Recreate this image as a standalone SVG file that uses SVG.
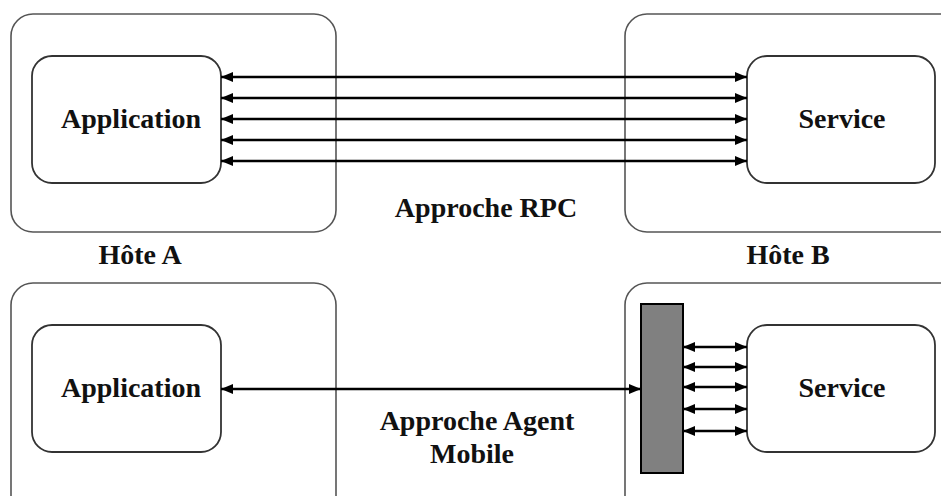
<svg xmlns="http://www.w3.org/2000/svg" width="941" height="496" viewBox="0 0 941 496">
<style>
.host{fill:none;stroke:#555;stroke-width:1.6}
.inner{fill:#fff;stroke:#333;stroke-width:1.8}
.lbl{font-family:"Liberation Serif",serif;font-weight:bold;font-size:28px;fill:#111;text-anchor:middle}
.arr{stroke:#000;stroke-width:2.4;fill:none;marker-start:url(#ah);marker-end:url(#ah)}
</style>
<defs>
<marker id="ah" viewBox="0 0 12 10" refX="12" refY="5" markerWidth="12" markerHeight="11" markerUnits="userSpaceOnUse" orient="auto-start-reverse">
<path d="M0,0 L12,5 L0,10 Z" fill="#000"/>
</marker>
</defs>
<rect width="941" height="496" fill="#fff"/>
<g id="hostA-top"><rect class="host" x="11" y="14" width="325" height="218" rx="22"/></g>
<g id="hostB-top"><rect class="host" x="625" y="14" width="340" height="218" rx="22"/></g>
<g id="hostA-bottom"><rect class="host" x="11" y="283" width="325" height="240" rx="22"/></g>
<g id="hostB-bottom"><rect class="host" x="625" y="283" width="340" height="240" rx="22"/></g>
<g id="app-top"><rect class="inner" x="32" y="56" width="189" height="127" rx="20"/><text class="lbl" x="131" y="128">Application</text></g>
<g id="service-top"><rect class="inner" x="747" y="56" width="188" height="127" rx="20"/><text class="lbl" x="842" y="128">Service</text></g>
<g id="app-bottom"><rect class="inner" x="32" y="325" width="189" height="127" rx="20"/><text class="lbl" x="131" y="397">Application</text></g>
<g id="service-bottom"><rect class="inner" x="747" y="325" width="188" height="127" rx="20"/><text class="lbl" x="842" y="397">Service</text></g>
<g id="agent"><rect x="641" y="304" width="42" height="169" fill="#808080" stroke="#000" stroke-width="2"/></g>
<g id="connectors">
<line class="arr" x1="221" y1="77" x2="747" y2="77"/>
<line class="arr" x1="221" y1="98" x2="747" y2="98"/>
<line class="arr" x1="221" y1="119" x2="747" y2="119"/>
<line class="arr" x1="221" y1="140" x2="747" y2="140"/>
<line class="arr" x1="221" y1="161" x2="747" y2="161"/>
<line class="arr" x1="221" y1="389" x2="641" y2="389"/>
<line class="arr" x1="683" y1="347" x2="747" y2="347"/>
<line class="arr" x1="683" y1="367" x2="747" y2="367"/>
<line class="arr" x1="683" y1="387" x2="747" y2="387"/>
<line class="arr" x1="683" y1="409" x2="747" y2="409"/>
<line class="arr" x1="683" y1="431" x2="747" y2="431"/>
</g>
<g id="labels">
<text class="lbl" x="140" y="264">Hôte A</text>
<text class="lbl" x="788" y="264">Hôte B</text>
<text class="lbl" x="486" y="217">Approche RPC</text>
<text class="lbl" x="477" y="430">Approche Agent</text>
<text class="lbl" x="472" y="463">Mobile</text>
</g>
</svg>
